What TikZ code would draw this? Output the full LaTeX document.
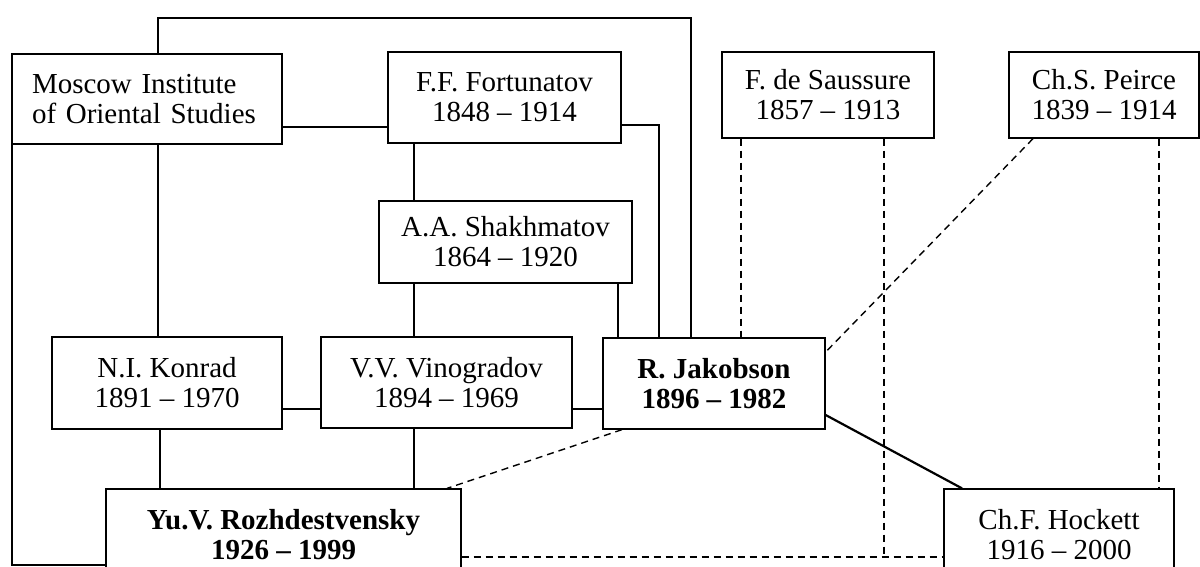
\documentclass[tikz,border=0pt]{standalone}
\usepackage{fontspec}
\setmainfont{Liberation Serif}
\begin{document}
\begin{tikzpicture}[x=1pt,y=-1pt,
  box/.style={draw, line width=1.3pt, inner sep=0pt, align=center, fill=white,
    font=\fontsize{29}{30}\selectfont},
  bbox/.style={box, font=\fontsize{29}{30}\selectfont\bfseries},
  conn/.style={line width=2.2pt},
  dsh/.style={line width=1.4pt, dash pattern=on 7pt off 5pt}]
\useasboundingbox (0,0) rectangle (1200,566);
% boxes
\node[box, minimum width=270pt, minimum height=90pt, text width=230pt, align=left] (moscow) at (147,99) {Moscow Institute\\of Oriental Studies};
\node[box, minimum width=233pt, minimum height=91pt] (fort) at (504.5,97.5) {F.F. Fortunatov\\1848 -- 1914};
\node[box, minimum width=212pt, minimum height=86pt] (saus) at (828,95) {F. de Saussure\\1857 -- 1913};
\node[box, minimum width=190pt, minimum height=86pt] (peirce) at (1104,95) {Ch.S. Peirce\\1839 -- 1914};
\node[box, minimum width=253pt, minimum height=82pt] (shakh) at (505.5,242) {A.A. Shakhmatov\\1864 -- 1920};
\node[box, minimum width=230pt, minimum height=92pt] (konrad) at (167,383) {N.I. Konrad\\1891 -- 1970};
\node[box, minimum width=251pt, minimum height=91pt] (vino) at (446.5,382.5) {V.V. Vinogradov\\1894 -- 1969};
\node[bbox, minimum width=222pt, minimum height=91pt] (jak) at (714,383.5) {R. Jakobson\\1896 -- 1982};
\node[bbox, minimum width=355pt, minimum height=92pt] (rozh) at (283.5,535) {Yu.V. Rozhdestvensky\\1926 -- 1999};
\node[box, minimum width=230pt, minimum height=92pt] (hockett) at (1059,535) {Ch.F. Hockett\\1916 -- 2000};
% helper coordinates
\coordinate (xA) at (158,0);
\coordinate (xTop) at (691,0);
\coordinate (xFJ) at (659,0);
\coordinate (xV) at (414,0);
\coordinate (xSJ) at (618,0);
\coordinate (xL) at (12,0);
\coordinate (xK) at (160,0);
\coordinate (xH) at (962,0);
\coordinate (xS1) at (741,0);
\coordinate (xS2) at (884,0);
\coordinate (xPd) at (1033,0);
\coordinate (xP2) at (1159,0);
\coordinate (xJd) at (622,0);
\coordinate (xRd) at (447,0);
\coordinate (ytop) at (0,18);
\coordinate (yMF) at (0,127);
\coordinate (yFJ) at (0,125);
\coordinate (yMid) at (0,409);
\coordinate (yJH) at (0,415);
\coordinate (yPJ) at (0,352);
\coordinate (yDash) at (0,557);
\coordinate (yBot) at (0,565);
% solid connectors
\draw[conn] (xA |- moscow.north) -- (xA |- ytop) -- (xTop |- ytop) -- (xTop |- jak.north);
\draw[conn] (moscow.east |- yMF) -- (fort.west |- yMF);
\draw[conn] (fort.east |- yFJ) -- (xFJ |- yFJ) -- (xFJ |- jak.north);
\draw[conn] (xV |- fort.south) -- (xV |- shakh.north);
\draw[conn] (xA |- moscow.south) -- (xA |- konrad.north);
\draw[conn] (xL |- moscow.south) -- (xL |- yBot) -- (rozh.west |- yBot);
\draw[conn] (xV |- shakh.south) -- (xV |- vino.north);
\draw[conn] (xSJ |- shakh.south) -- (xSJ |- jak.north);
\draw[conn] (xK |- konrad.south) -- (xK |- rozh.north);
\draw[conn] (xV |- vino.south) -- (xV |- rozh.north);
\draw[conn] (konrad.east |- yMid) -- (vino.west |- yMid);
\draw[conn] (vino.east |- yMid) -- (jak.west |- yMid);
\draw[conn] (jak.east |- yJH) -- (xH |- hockett.north);
% dashed connectors
\draw[dsh] (xS1 |- saus.south) -- (xS1 |- jak.north);
\draw[dsh] (xS2 |- saus.south) -- (xS2 |- yDash);
\draw[dsh] (xPd |- peirce.south) -- (jak.east |- yPJ);
\draw[dsh] (xP2 |- peirce.south) -- (xP2 |- hockett.north);
\draw[dsh] (xJd |- jak.south) -- (xRd |- rozh.north);
\draw[dsh] (rozh.east |- yDash) -- (hockett.west |- yDash);
\end{tikzpicture}
\end{document}
